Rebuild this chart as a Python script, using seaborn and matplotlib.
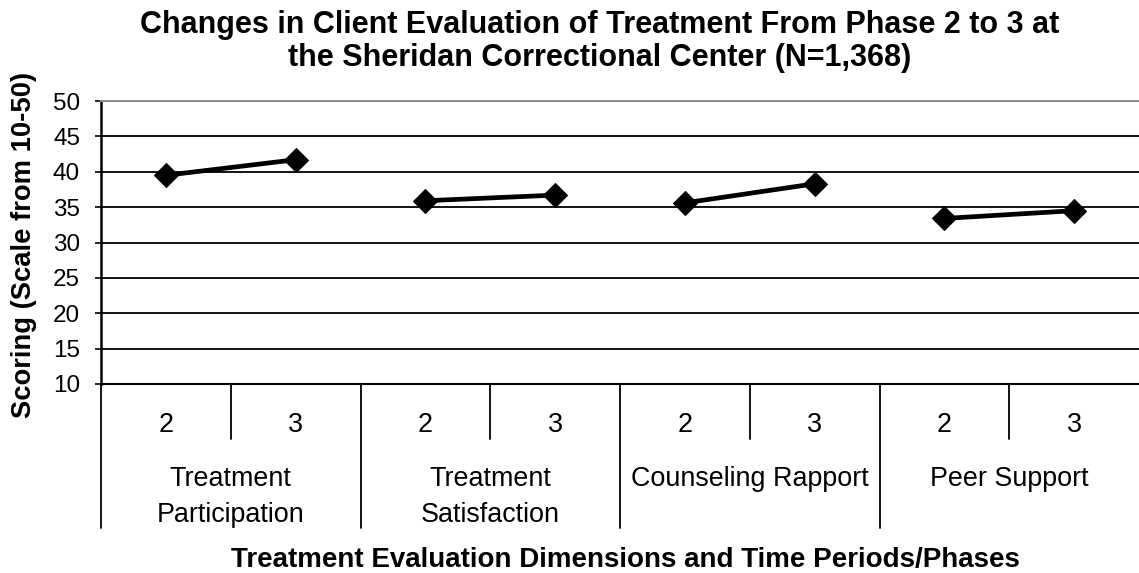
import matplotlib
matplotlib.use("Agg")
import matplotlib.pyplot as plt
import seaborn as sns
import pandas as pd

# values
dimensions = ["Treatment\nParticipation", "Treatment\nSatisfaction", "Counseling Rapport", "Peer Support"]
phases = ["2", "3"]
phase2_scores = [39.5, 35.9, 35.6, 33.4]
phase3_scores = [41.7, 36.7, 38.3, 34.5]
y_ticks = [10, 15, 20, 25, 30, 35, 40, 45, 50]
title_lines = ["Changes in Client Evaluation of Treatment From Phase 2 to 3 at",
               "the Sheridan Correctional Center (N=1,368)"]

rows = []
for i, dim in enumerate(dimensions):
    for j, score in enumerate([phase2_scores[i], phase3_scores[i]]):
        rows.append({"dimension": dim, "phase": phases[j], "pos": i * len(phases) + j, "score": score})
df = pd.DataFrame(rows)

sns.set_style("white")
plt.rcParams["font.family"] = ["Liberation Sans", "DejaVu Sans"]
plt.rcParams["text.color"] = "black"

W, H = 1139, 573
fig = plt.figure(figsize=(W / 100, H / 100), dpi=100)
ax = fig.add_axes([101 / W, 189 / H, 1038 / W, 283 / H])

sns.lineplot(data=df, x="pos", y="score", units="dimension", estimator=None,
             color="black", marker="D", markersize=12.5, markeredgecolor="black",
             linewidth=3.4, ax=ax, legend=False)

ax.set_xlim(-0.5, len(df) - 0.5)
ax.set_ylim(y_ticks[0], y_ticks[-1])
ax.set_yticks(y_ticks)
ax.set_xticks([])
ax.set_xlabel("")
ax.set_ylabel("")
ax.tick_params(axis="y", direction="out", length=4.3, width=1.2, pad=10.8,
               labelsize=17.5, left=True, colors="black", labelcolor="black")
ax.yaxis.grid(True, color="black", linewidth=1.3)
ax.set_axisbelow(True)
ax.spines["right"].set_visible(False)
ax.spines["top"].set_color("#8c8c8c")
ax.spines["top"].set_linewidth(1.5)
ax.spines["bottom"].set_color("black")
ax.spines["bottom"].set_linewidth(1.5)
ax.spines["left"].set_color("black")
ax.spines["left"].set_linewidth(1.8)

# two-level category axis under the plot (axes height = 283 px)
trans = ax.get_xaxis_transform()
n = len(phases)
ax.plot([-0.5, -0.5], [0, -0.509], transform=trans, color="black", lw=1.3, clip_on=False)
for i, dim in enumerate(dimensions):
    for j, ph in enumerate(phases):
        p = i * n + j
        ax.text(p, -48 / 283, ph, transform=trans, ha="center", va="baseline", fontsize=19.4)
        if j < n - 1:
            ax.plot([p + 0.5, p + 0.5], [0, -0.194], transform=trans, color="black", lw=1.3, clip_on=False)
    if i < len(dimensions) - 1:
        ax.plot([i * n + n - 0.5] * 2, [0, -0.509], transform=trans, color="black", lw=1.3, clip_on=False)
    center = i * n + (n - 1) / 2
    for k, line in enumerate(dim.split("\n")):
        ax.text(center, -(102 + 36 * k) / 283, line, transform=trans,
                ha="center", va="baseline", fontsize=19.4)

for k, line in enumerate(title_lines):
    fig.text(600 / W, 1 - (33 + 33 * k) / H, line, ha="center", va="baseline",
             fontsize=22, fontweight="bold")
fig.text(625 / W, 1 - 567 / H, "Treatment Evaluation Dimensions and Time Periods/Phases",
         ha="center", va="baseline", fontsize=20, fontweight="bold")
fig.text(24 / W, 1 - 245 / H, "Scoring (Scale from 10-50)", rotation=90,
         ha="center", va="center", fontsize=19.7, fontweight="bold")

fig.savefig("out.png", dpi=100)
